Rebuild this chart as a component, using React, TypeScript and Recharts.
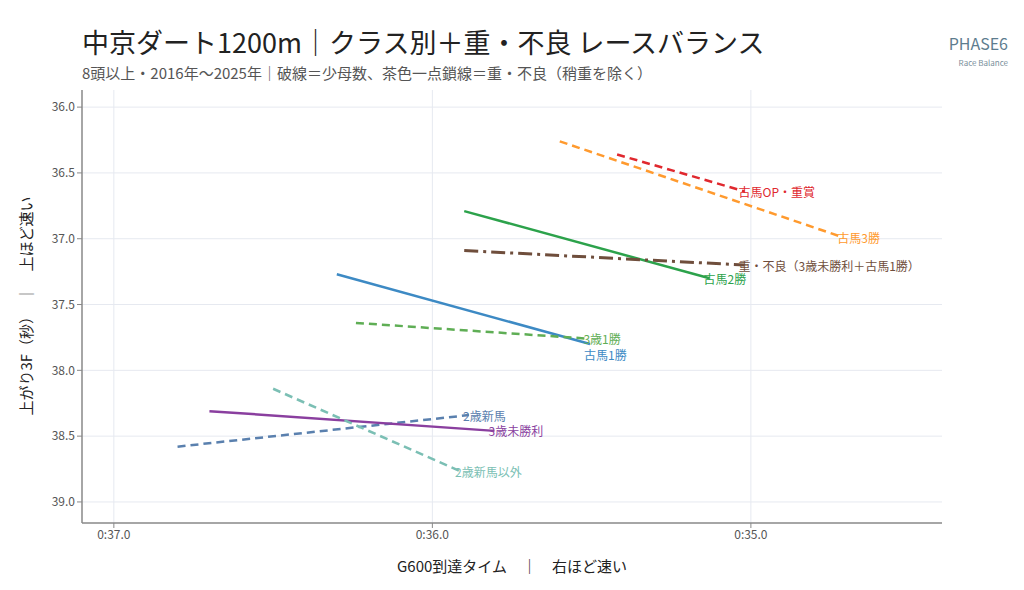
import { LineChart, Line, XAxis, YAxis, ReferenceLine } from 'recharts'

// 各クラスの線分：始点（前半が遅い側）→ 終点（ラベル位置）
const classes = [
  '古馬OP・重賞',
  '古馬3勝',
  '古馬2勝',
  '重・不良（3歳未勝利＋古馬1勝）',
  '古馬1勝',
  '3歳1勝',
  '2歳新馬',
  '3歳未勝利',
  '2歳新馬以外',
]
const g600From = [35.42, 35.6, 35.9, 35.9, 36.3, 36.24, 36.8, 36.7, 36.5]
const g600To = [35.02, 34.71, 35.13, 35.02, 35.505, 35.507, 35.885, 35.805, 35.91]
const last3fFrom = [36.36, 36.26, 36.79, 37.09, 37.27, 37.64, 38.58, 38.31, 38.14]
const last3fTo = [36.64, 36.99, 37.3, 37.2, 37.8, 37.76, 38.34, 38.46, 38.77]

const xTicks = [37, 36, 35]
const yTicks = [36, 36.5, 37, 37.5, 38, 38.5, 39]

const styles = [
  { color: '#e0282e', dash: '8 5', width: 2.5 },
  { color: '#ff9a2e', dash: '8 5', width: 2.5 },
  { color: '#2ca24b', dash: undefined, width: 2.5 },
  { color: '#6f4e3c', dash: '14 5 3 5', width: 3 },
  { color: '#3d8ac4', dash: undefined, width: 2.5 },
  { color: '#5fae55', dash: '8 5', width: 2.5 },
  { color: '#5a80ae', dash: '8 5', width: 2.5 },
  { color: '#8a3f9f', dash: undefined, width: 2.5 },
  { color: '#7bbfb4', dash: '8 5', width: 2.5 },
]
// ラベルの縦ずらし（古馬1勝だけ重なるので下げる）
const labelDy: Record<string, number> = { '古馬1勝': 10 }

const font = '"Noto Sans CJK JP", "Noto Sans", sans-serif'
const gridColor = '#e6e9f0'

const fmtTime = (v: number) => `0:${v.toFixed(1)}`

export default function App() {
  const series = classes.map((name, i) => ({
    name,
    points: [
      { x: g600From[i], y: last3fFrom[i] },
      { x: g600To[i], y: last3fTo[i] },
    ],
    ...styles[i],
  }))

  return (
    <div style={{ position: 'absolute', left: 0, top: 0, width: 1024, height: 590, background: '#fff', fontFamily: font }}>
      <div style={{ position: 'absolute', left: 82, top: 22, fontSize: 27, color: '#222', whiteSpace: 'nowrap' }}>
        中京ダート1200m｜クラス別＋重・不良 レースバランス
      </div>
      <div style={{ position: 'absolute', left: 82, top: 62, fontSize: 15, color: '#555', whiteSpace: 'nowrap' }}>
        8頭以上・2016年〜2025年｜破線＝少母数、茶色一点鎖線＝重・不良（稍重を除く）
      </div>
      <div style={{ position: 'absolute', right: 16, top: 31, fontSize: 16, color: '#5d7c8e', textAlign: 'right' }}>
        PHASE6
        <div style={{ fontSize: 8, color: '#7a8f9b', marginTop: 2 }}>Race Balance</div>
      </div>

      <LineChart
        width={1024}
        height={590}
        margin={{ top: 90, right: 82, bottom: 0, left: 0 }}
        style={{ position: 'absolute', left: 0, top: 0 }}
      >
        <XAxis
          type="number"
          dataKey="x"
          domain={[34.4, 37.1]}
          reversed
          ticks={xTicks}
          tickFormatter={fmtTime}
          height={67}
          allowDataOverflow
          axisLine={{ stroke: '#888', strokeWidth: 1.5 }}
          tickLine={{ stroke: '#888' }}
          tickSize={5}
          tick={{ fill: '#555', fontSize: 12, fontFamily: font }}
        />
        <YAxis
          type="number"
          dataKey="y"
          domain={[35.87, 39.16]}
          reversed
          ticks={yTicks}
          tickFormatter={(v: number) => v.toFixed(1)}
          width={82}
          allowDataOverflow
          axisLine={{ stroke: '#888', strokeWidth: 1.5 }}
          tickLine={{ stroke: '#888' }}
          tickSize={5}
          tick={{ fill: '#555', fontSize: 12, fontFamily: font }}
        />
        {xTicks.map((t) => (
          <ReferenceLine key={`gx${t}`} x={t} stroke={gridColor} strokeWidth={1} />
        ))}
        {yTicks.map((t) => (
          <ReferenceLine key={`gy${t}`} y={t} stroke={gridColor} strokeWidth={1} />
        ))}
        {series.map((s) => (
          <Line
            key={s.name}
            data={s.points}
            dataKey="y"
            type="linear"
            stroke={s.color}
            strokeWidth={s.width}
            strokeDasharray={s.dash}
            dot={false}
            activeDot={false}
            isAnimationActive={false}
            label={(p: any) =>
              p.index === 1 ? (
                <text
                  key={`${s.name}-lbl`}
                  x={p.x - 6}
                  y={p.y + (labelDy[s.name] ?? 0)}
                  fill={s.color}
                  fontSize={12}
                  fontFamily={font}
                  textAnchor="start"
                  dominantBaseline="central"
                >
                  {s.name}
                </text>
              ) : (
                <g key={`${s.name}-lbl0`} />
              )
            }
          />
        ))}
      </LineChart>

      <div
        style={{
          position: 'absolute',
          left: 25,
          top: 306,
          transform: 'translate(-50%, -50%) rotate(-90deg)',
          fontSize: 15,
          color: '#222',
          whiteSpace: 'nowrap',
        }}
      >
        上がり3F（秒）　｜　上ほど速い
      </div>
      <div
        style={{
          position: 'absolute',
          left: 512,
          top: 565,
          transform: 'translate(-50%, -50%)',
          fontSize: 15,
          color: '#222',
          whiteSpace: 'nowrap',
        }}
      >
        G600到達タイム　｜　右ほど速い
      </div>
    </div>
  )
}
